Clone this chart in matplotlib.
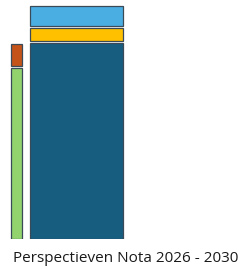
import matplotlib
matplotlib.use("Agg")
import matplotlib.pyplot as plt

# Segment sizes per column (bottom to top)
left_labels = ["Groen", "Rood"]
left_values = [173.5, 24]
left_colors = ["#92D36E", "#C4531A"]

right_labels = ["Donkerblauw", "Geel", "Lichtblauw"]
right_values = [198.5, 15, 22]
right_colors = ["#175D80", "#FFC000", "#4BAEE3"]

title = "Perspectieven Nota 2026 - 2030"

EDGE = "#3A4A57"
GAP = 2.4

fig = plt.figure(figsize=(2.42, 2.69), dpi=100)
ax = fig.add_axes([0, (269 - 239.3) / 269, 1, 240 / 269])
ax.set_xlim(0, 242)
ax.set_ylim(0, 240)
ax.axis("off")


def stack(x, width, values, colors):
    bottom = 0
    for v, c in zip(values, colors):
        ax.bar(x, v - GAP, width=width, bottom=bottom, color=c,
               edgecolor=EDGE, linewidth=0.9, align="center")
        bottom += v


stack(16.5, 11, left_values, left_colors)
stack(76, 93, right_values, right_colors)

fig.text(125.5 / 242, 1 - 261.5 / 269, title, ha="center", va="baseline",
         fontsize=11, family="Open Sans", color="#1A1A1A")

fig.savefig("out.png", dpi=100)
